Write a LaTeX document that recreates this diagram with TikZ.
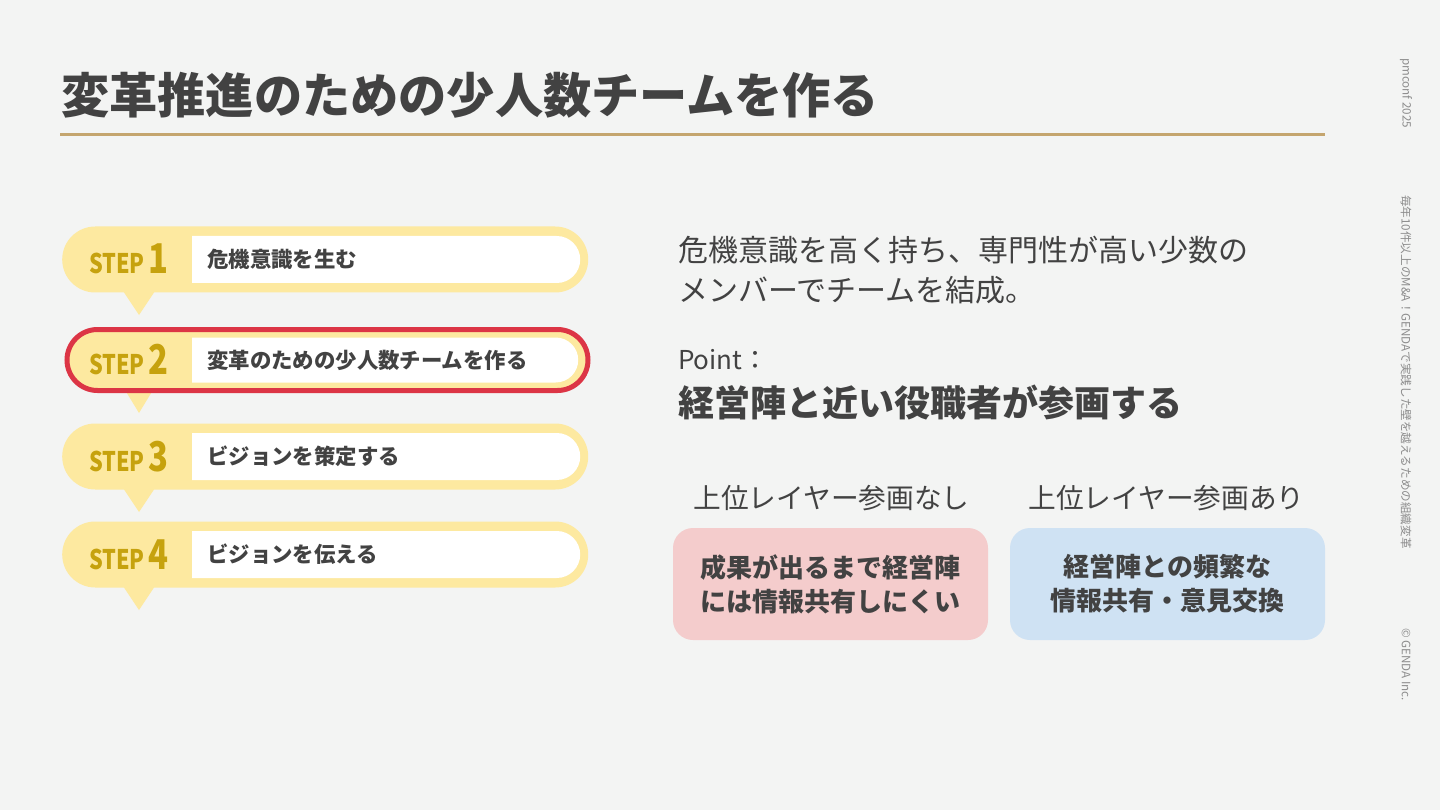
\documentclass[tikz,border=0pt]{standalone}
\usepackage{fontspec}
\setmainfont{Noto Sans CJK JP}
\newfontfamily\stepfont{Noto Sans CJK JP}[FakeStretch=0.8]
\usetikzlibrary{shapes.misc}
\definecolor{bg}{HTML}{F3F4F3}
\definecolor{txt}{HTML}{424242}
\definecolor{rule}{HTML}{C4A56E}
\definecolor{pillY}{HTML}{FDE9A0}
\definecolor{stepgold}{HTML}{C6A20E}
\definecolor{redb}{HTML}{DC3545}
\definecolor{pinkb}{HTML}{F4CCCC}
\definecolor{blueb}{HTML}{CFE2F3}
\definecolor{side}{HTML}{8C8C8C}
\begin{document}
\begin{tikzpicture}[x=1pt,y=-1pt,
  pill/.style={rounded rectangle, fill=pillY, minimum width=526pt, minimum height=66pt, inner sep=0pt, anchor=west},
  innerbox/.style={rounded rectangle, rounded rectangle west arc=none, fill=white, minimum width=388pt, minimum height=47pt, inner sep=0pt, anchor=west},
  steplbl/.style={text=stepgold, anchor=base west, inner sep=0pt},
  steptxt/.style={text=txt, font=\bfseries\fontsize{21.4}{24}\selectfont, anchor=west, inner sep=0pt},
  bodytxt/.style={text=txt, anchor=west, inner sep=0pt, align=left},
  colhead/.style={text=txt, font=\fontsize{27.7}{30}\selectfont, inner sep=0pt},
  cbox/.style={rounded corners=20pt, minimum width=315pt, minimum height=112pt, inner sep=0pt, text=txt, align=center, font=\bfseries\fontsize{26}{34}\selectfont},
  sidetxt/.style={text=side, font=\fontsize{11.6}{13}\selectfont, rotate=-90, anchor=west, inner sep=0pt},
]
\useasboundingbox (0,0) rectangle (1440,810);
\fill[bg] (0,0) rectangle (1440,810);

% title
\node[text=txt, font=\bfseries\fontsize{48.2}{50}\selectfont, anchor=west, inner sep=0pt] (title) at (61,95) {変革推進のための少人数チームを作る};
\coordinate (r1) at (60,135);
\coordinate (r2) at (1325,135);
\draw[rule, line width=3pt] (r1) -- (r2);

% steps
\foreach \i/\cy/\txt in {1/259.5/危機意識を生む, 3/456.5/ビジョンを策定する, 4/554.5/ビジョンを伝える}{
  \fill[pillY] (122,\cy+30) -- (156,\cy+30) -- (139,\cy+55.5) -- cycle;
  \node[pill] (p\i) at (62,\cy) {};
  \node[innerbox] (w\i) at (192,\cy) {};
  \node[steplbl] (l\i) at (89,\cy+14.5) {\stepfont\bfseries\fontsize{27}{28}\selectfont STEP\kern4pt\fontsize{41}{41}\selectfont\i};
  \node[steptxt] (t\i) at (207,\cy) {\txt};
}
% step 2 (current)
\fill[pillY] (122,385) -- (156,385) -- (139,413) -- cycle;
\node[pill, draw=redb, line width=5pt, minimum width=521pt, minimum height=61pt] (p2) at (64.5,360) {};
\node[innerbox, minimum width=386pt, minimum height=45pt] (w2) at (192,360) {};
\node[steplbl] (l2) at (89,374.5) {\stepfont\bfseries\fontsize{27}{28}\selectfont STEP\kern4pt\fontsize{41}{41}\selectfont 2};
\node[steptxt] (t2) at (207,360) {変革のための少人数チームを作る};

% right side
\node[bodytxt, font=\fontsize{30}{40}\selectfont, anchor=north west] (b1) at (678,235.5) {危機意識を高く持ち、専門性が高い少数の\\メンバーでチームを結成。};
\node[bodytxt, font=\fontsize{26}{30}\selectfont] (pt) at (678,360) {Point：};
\node[bodytxt, font=\bfseries\fontsize{36}{40}\selectfont] (pm) at (678,403) {経営陣と近い役職者が参画する};

\node[colhead] (h1) at (831.5,498) {上位レイヤー参画なし};
\node[colhead] (h2) at (1166.5,498) {上位レイヤー参画あり};
\node[cbox, fill=pinkb] (c1) at (830.5,584) {成果が出るまで経営陣\\には情報共有しにくい};
\node[cbox, fill=blueb] (c2) at (1167.5,584) {経営陣との頻繁な\\情報共有・意見交換};

% side texts
\node[sidetxt] (s1) at (1406,58) {pmconf 2025};
\node[sidetxt] (s2) at (1406,195) {毎年10件以上のM\&A！GENDAで実践した壁を越えるための組織変革};
\node[sidetxt] (s3) at (1406,628) {© GENDA Inc.};
\end{tikzpicture}
\end{document}
